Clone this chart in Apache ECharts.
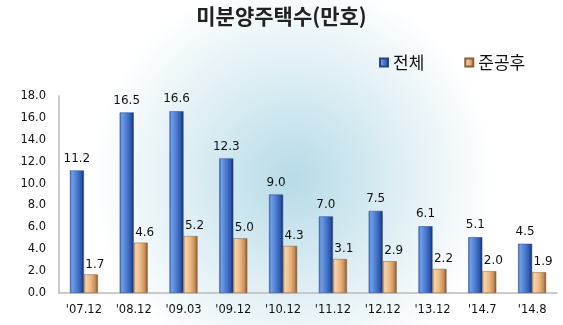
<!DOCTYPE html>
<html>
<head>
<meta charset="utf-8">
<script src="https://cdn.jsdelivr.net/npm/echarts@6/dist/echarts.min.js"></script>
<style>
  html, body { margin: 0; padding: 0; background: #fff; }
  #chart { width: 563px; height: 325px; }
</style>
</head>
<body>
<div id="chart"></div>
<script>
// Unsold housing stock (unit: 10,000 homes)
const categories = ["'07.12", "'08.12", "'09.03", "'09.12", "'10.12", "'11.12", "'12.12", "'13.12", "'14.7", "'14.8"];
const totalValues = [11.2, 16.5, 16.6, 12.3, 9.0, 7.0, 7.5, 6.1, 5.1, 4.5];
const afterCompletionValues = [1.7, 4.6, 5.2, 5.0, 4.3, 3.1, 2.9, 2.2, 2.0, 1.9];
const seriesNames = ['전체', '준공후'];

const numFont = '"DejaVu Sans", Verdana, sans-serif';
const krFont = '"Noto Sans CJK KR", sans-serif';

// bevelled column look: lit left edge, shaded right edge
function barFill(edge, lit, mid, shade, dark) {
  return new echarts.graphic.LinearGradient(0, 0, 1, 0, [
    { offset: 0, color: edge },
    { offset: 0.15, color: lit },
    { offset: 0.5, color: mid },
    { offset: 0.8, color: shade },
    { offset: 1, color: dark }
  ]);
}

const chart = echarts.init(document.getElementById('chart'), null, { renderer: 'canvas' });
chart.setOption({
  backgroundColor: new echarts.graphic.RadialGradient(0.52, 0.55, 0.62, [
    { offset: 0, color: '#b6dbe7' },
    { offset: 0.5, color: '#dcedf3' },
    { offset: 1, color: '#ffffff' }
  ]),
  animation: false,
  title: {
    text: '미분양주택수(만호)',
    left: 'center',
    top: 1,
    textStyle: { fontFamily: krFont, fontSize: 21, fontWeight: 'bold', color: '#222' }
  },
  legend: {
    data: seriesNames,
    top: 49,
    left: 374,
    itemWidth: 8,
    itemHeight: 8,
    itemGap: 40,
    icon: 'rect',
    textStyle: { fontFamily: krFont, fontSize: 17, color: '#111' }
  },
  grid: { left: 59, right: 6, top: 96, bottom: 32 },
  xAxis: {
    type: 'category',
    data: categories,
    axisLine: { lineStyle: { color: '#bbbbbb', width: 1.5 } },
    axisTick: { show: false },
    axisLabel: { fontFamily: numFont, fontSize: 11.5, color: '#111', margin: 11 }
  },
  yAxis: {
    type: 'value',
    min: 0,
    max: 18,
    interval: 2,
    axisLine: { show: true, lineStyle: { color: '#bbbbbb', width: 1.5 } },
    axisTick: { show: false },
    splitLine: { show: false },
    axisLabel: {
      fontFamily: numFont, fontSize: 11.5, color: '#111', margin: 13,
      formatter: v => v.toFixed(1)
    }
  },
  series: [
    {
      name: seriesNames[0],
      type: 'bar',
      data: totalValues,
      barWidth: 14,
      barGap: '0%',
      itemStyle: {
        color: barFill('#3a66b8', '#6f9fe6', '#4b7bd0', '#2f58aa', '#142d66'),
        borderColor: '#24448a',
        borderWidth: 0.5
      },
      label: {
        show: true,
        position: 'top',
        distance: 6,
        fontFamily: numFont,
        fontSize: 12,
        color: '#111',
        formatter: p => p.value.toFixed(1)
      }
    },
    {
      name: seriesNames[1],
      type: 'bar',
      data: afterCompletionValues,
      barWidth: 14,
      barGap: '0%',
      itemStyle: {
        color: barFill('#c89060', '#f7d3aa', '#ebb781', '#c98e58', '#7a5330'),
        borderColor: '#8a5e35',
        borderWidth: 0.5
      },
      label: {
        show: true,
        position: 'top',
        distance: 4,
        offset: [4, 0],
        fontFamily: numFont,
        fontSize: 12,
        color: '#111',
        formatter: p => p.value.toFixed(1)
      }
    }
  ]
});
</script>
</body>
</html>
